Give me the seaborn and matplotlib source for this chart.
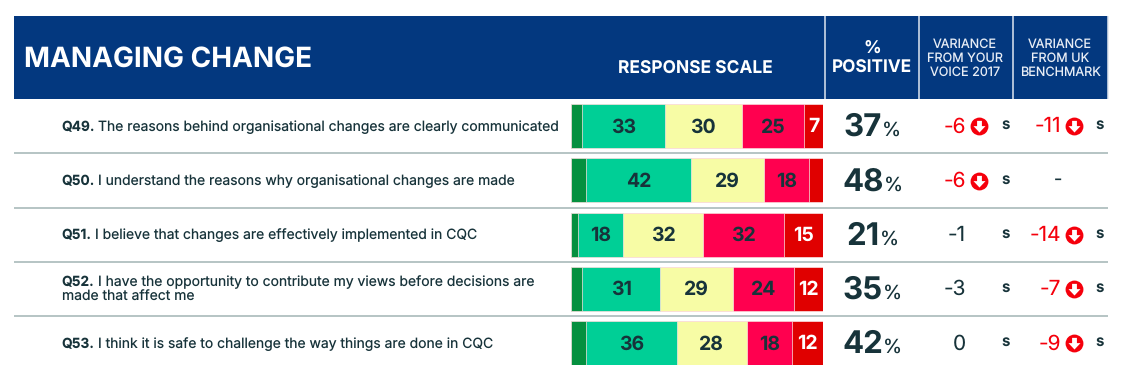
import pandas as pd
import seaborn as sns
from matplotlib import pyplot as plt
from matplotlib.path import Path

# response scale, dark green -> dark red
q_ids = ["Q49.", "Q50.", "Q51.", "Q52.", "Q53."]
q_texts = [
    "The reasons behind organisational changes are clearly communicated",
    "I understand the reasons why organisational changes are made",
    "I believe that changes are effectively implemented in CQC",
    "I have the opportunity to contribute my views before decisions are",
    "I think it is safe to challenge the way things are done in CQC",
]
strongly_agree = [4.4, 5.8, 2.6, 4.5, 6.0]
agree = [33, 42, 18, 31, 36]
neither = [30.4, 29, 32, 29, 28]
disagree = [25, 18, 32, 24, 18]
strongly_disagree = [7.2, 5.2, 15.4, 11.5, 12]
positive = [37, 48, 21, 35, 42]
var_2017 = ["-6", "-6", "-1", "-3", "0"]
var_2017_down = [True, True, False, False, False]
var_uk = ["-11", "-", "-14", "-7", "-9"]
var_uk_down = [True, False, True, True, True]

NAVY = "#03387f"
DARK = "#17333a"
RED = "#f5000c"
LINE = "#a9baba"
seg_names = ["strongly_agree", "agree", "neither", "disagree", "strongly_disagree"]
seg_colors = ["#05903f", "#00cf96", "#f7fca5", "#ff004f", "#e00000"]
seg_text = [DARK, DARK, DARK, DARK, "white"]

ROW_Y = [126, 180.5, 234.5, 288.5, 343]

sns.set_theme(style="white")
plt.rcParams["font.family"] = ["Inter", "DejaVu Sans"]
plt.rcParams["text.hinting"] = "no_hinting"

fig = plt.figure(figsize=(11.29, 3.65), dpi=100, facecolor="white")
# page axes in pixel coordinates, for the table furniture
page = fig.add_axes([0, 0, 1, 1])
page.set_xlim(0, 1129)
page.set_ylim(365, 0)
page.axis("off")

page.fill_between([14, 1108], 16, 98.5, color=NAVY, lw=0)
for x in [825, 919, 1013, 1108]:
    page.plot([x, x], [16, 98.5], color="#dfe6f0", lw=1.1, solid_capstyle="butt")
for y in [153, 207.5, 261.5, 315.5]:
    page.plot([14, 1108], [y, y], color=LINE, lw=1.2, solid_capstyle="butt")

page.text(24, 59.5, "MANAGING CHANGE", color="white", fontsize=20.1, fontweight="bold", va="center")
page.text(695, 68.5, "RESPONSE SCALE", color="white", fontsize=12.5, fontweight="bold", ha="center", va="center")
page.text(872, 48.5, "%", color="white", fontsize=12.5, fontweight="bold", ha="center", va="center")
page.text(872, 68.5, "POSITIVE", color="white", fontsize=12.4, fontweight="bold", ha="center", va="center")
for x, lines in [(965, ["VARIANCE", "FROM YOUR", "VOICE 2017"]), (1060, ["VARIANCE", "FROM UK", "BENCHMARK"])]:
    for y, line in zip([44, 58, 72], lines):
        page.text(x, y, line, color="#e8edf5", fontsize=9.1, ha="center", va="center")

renderer = fig.canvas.get_renderer()


def text_width(t):
    return t.get_window_extent(renderer).width


# down arrow glyph for the red circles
arrow = Path([(-0.32, 0.75), (0.32, 0.75), (0.32, 0.05), (0.8, 0.05), (0, -0.8), (-0.8, 0.05), (-0.32, 0.05), (-0.32, 0.75)], closed=True)


def variance(value, down, x_right, x_icon, x_s, y):
    if value == "-":
        page.text(x_right - 3, y, value, color=DARK, fontsize=13, ha="center", va="center")
        return
    page.text(x_right, y + 1, value, color=RED if down else DARK, fontsize=15, ha="right", va="center")
    if down:
        page.scatter([x_icon], [y], s=165, color=RED, linewidths=0, zorder=3)
        page.scatter([x_icon], [y], s=75, marker=arrow, color="white", linewidths=0, zorder=4)
    page.text(x_s, y - 1, "s", color=DARK, fontsize=11, fontweight="semibold", ha="center", va="center")


for i, y in enumerate(ROW_Y):
    if i == 3:
        t_id = page.text(61.5, 282.5, q_ids[i], color=DARK, fontsize=9.9, fontweight="bold", va="center")
        page.text(61.5 + text_width(t_id) + 3.5, 282.5, q_texts[i], color=DARK, fontsize=10.03, va="center")
        page.text(61.5, 297.5, "made that affect me", color=DARK, fontsize=10.03, va="center")
    else:
        t_id = page.text(61.5, y + 1, q_ids[i], color=DARK, fontsize=9.9, fontweight="bold", va="center")
        page.text(61.5 + text_width(t_id) + 3.5, y + 1, q_texts[i], color=DARK, fontsize=10.03, va="center")

    # % positive, number and sign centred together
    t_num = page.text(0, y + 2, str(positive[i]), color=DARK, fontsize=22.5, fontweight="bold", va="center")
    t_pct = page.text(0, y + 5, "%", color=DARK, fontsize=14, va="center")
    left = 872.5 - (text_width(t_num) + text_width(t_pct)) / 2
    t_num.set_x(left)
    t_pct.set_x(left + text_width(t_num))

    variance(var_2017[i], var_2017_down[i], 966, 979, 1006, y)
    variance(var_uk[i], var_uk_down[i], 1061, 1074, 1100, y)

# stacked bars, pitch 54.25 px per row
W, H = 1129, 365
bar_left, bar_right, bar_top = 571, 822.5, 99
bar_height = 54.25 * 5
ax = fig.add_axes([bar_left / W, 1 - (bar_top + bar_height) / H, (bar_right - bar_left) / W, bar_height / H])

df = pd.DataFrame({
    "question": q_ids,
    "strongly_agree": strongly_agree,
    "agree": agree,
    "neither": neither,
    "disagree": disagree,
    "strongly_disagree": strongly_disagree,
})
cum = df[seg_names].cumsum(axis=1)
cum["question"] = q_ids
# longest first so the shorter ones paint over it
for name, color in reversed(list(zip(seg_names, seg_colors))):
    sns.barplot(data=cum, x=name, y="question", color=color, saturation=1, width=0.81,
                edgecolor="#fbe3e3", linewidth=0.5, ax=ax)

for col, (name, tc) in enumerate(zip(seg_names, seg_text)):
    for row in range(len(q_ids)):
        v = df[name][row]
        if col == 0 or v < 7:
            continue
        ax.text(cum[name][row] - v / 2, row + 0.02, str(round(v)), color=tc, fontsize=14,
                fontweight="bold", ha="center", va="center")

ax.set_xlim(0, 100)
ax.set_ylim(4.5, -0.5)
ax.set_xlabel("")
ax.set_ylabel("")
ax.set_xticks([])
ax.set_yticks([])
ax.patch.set_alpha(0)
sns.despine(ax=ax, left=True, bottom=True)

fig.savefig("out.png", dpi=100)
